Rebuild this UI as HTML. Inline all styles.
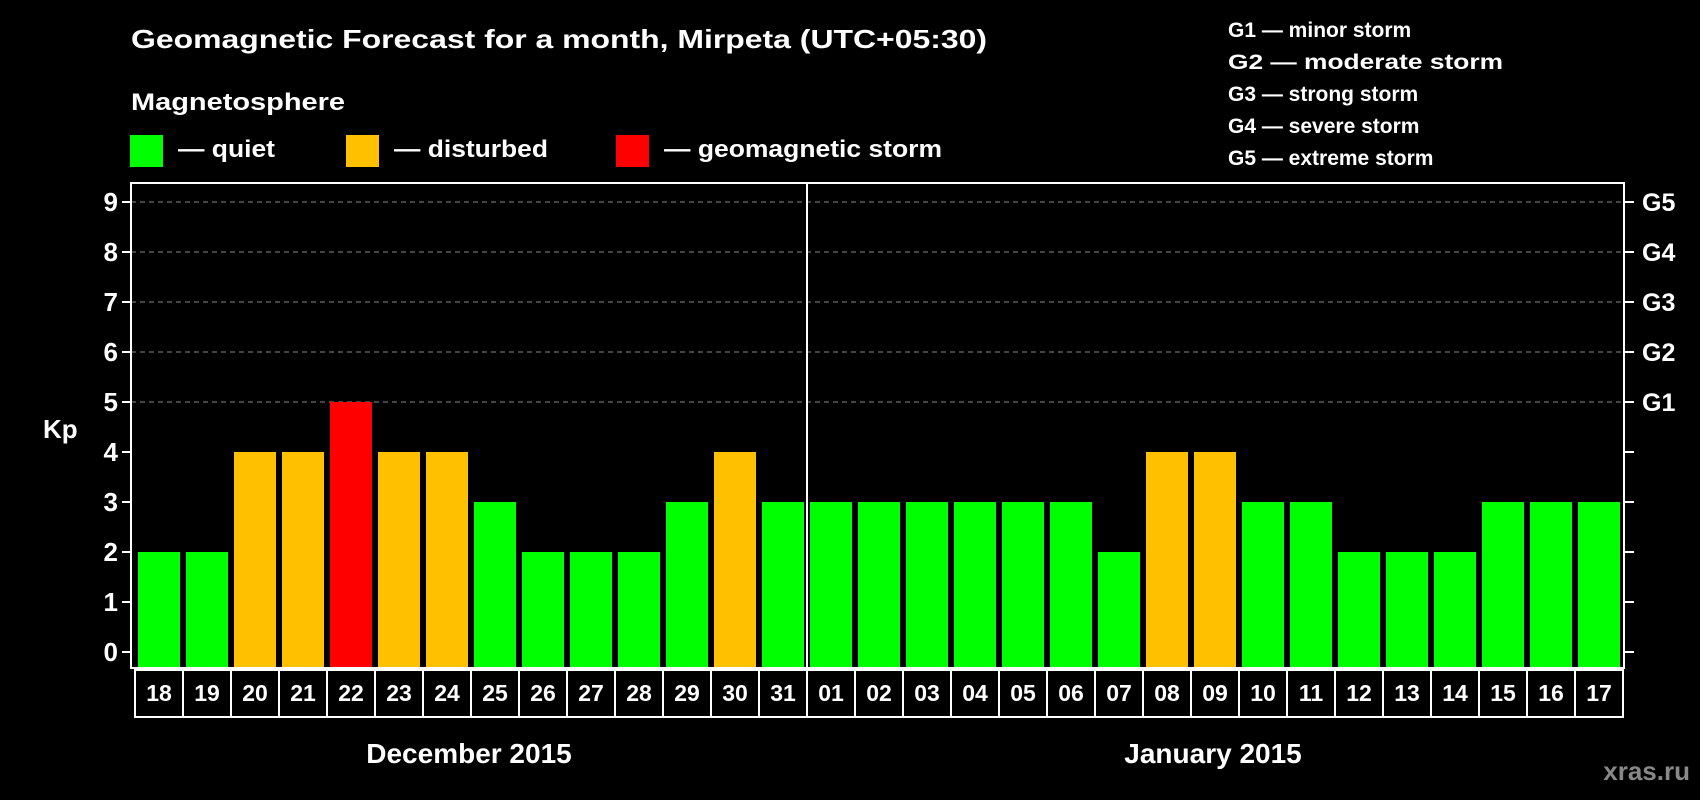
<!DOCTYPE html>
<html><head><meta charset="utf-8"><style>
html,body{margin:0;padding:0;background:#000;width:1700px;height:800px;overflow:hidden}
svg text{font-family:"Liberation Sans",Arial,sans-serif;font-weight:bold;fill:#fff}
</style></head><body>
<svg id="chart" width="1700" height="800" xmlns="http://www.w3.org/2000/svg">
<text x="131" y="48" font-size="26" textLength="856" lengthAdjust="spacingAndGlyphs">Geomagnetic Forecast for a month, Mirpeta (UTC+05:30)</text>
<text x="131" y="110" font-size="24" textLength="214" lengthAdjust="spacingAndGlyphs">Magnetosphere</text>
<rect x="130" y="135" width="33" height="32" fill="#00ff00"/>
<text x="178" y="157" font-size="24" textLength="97" lengthAdjust="spacingAndGlyphs">— quiet</text>
<rect x="346" y="135" width="33" height="32" fill="#ffc000"/>
<text x="394" y="157" font-size="24" textLength="154" lengthAdjust="spacingAndGlyphs">— disturbed</text>
<rect x="616" y="135" width="33" height="32" fill="#ff0000"/>
<text x="664" y="157" font-size="24" textLength="278" lengthAdjust="spacingAndGlyphs">— geomagnetic storm</text>
<g font-size="21">
<text x="1228" y="37">G1 — minor storm</text>
<text x="1228" y="69" textLength="275" lengthAdjust="spacingAndGlyphs">G2 — moderate storm</text>
<text x="1228" y="101">G3 — strong storm</text>
<text x="1228" y="133">G4 — severe storm</text>
<text x="1228" y="165">G5 — extreme storm</text>
</g>
<g id="grid"></g><g id="bars"></g><g id="axes"></g>
<text x="43" y="438" font-size="26">Kp</text>
<text x="469" y="763" font-size="28" text-anchor="middle">December 2015</text>
<text x="1213" y="763" font-size="28" text-anchor="middle">January 2015</text>
<text x="1690" y="780" font-size="26" text-anchor="end" style="fill:#888">xras.ru</text>
</svg>
<script>
const days = ["18","19","20","21","22","23","24","25","26","27","28","29","30","31","01","02","03","04","05","06","07","08","09","10","11","12","13","14","15","16","17"];
const kp = [2,2,4,4,5,4,4,3,2,2,2,3,4,3,3,3,3,3,3,3,2,4,4,3,3,2,2,2,3,3,3];
const yTicks = [0,1,2,3,4,5,6,7,8,9];
const gLabels = ["G1","G2","G3","G4","G5"];
const monthSplit = 14;
const NS="http://www.w3.org/2000/svg";
const L=131,R=1624,T=183,B=668;
const y=v=>652-v*50;
const x=i=>138+i*48;
function mk(tag,attrs,parent,txt){const e=document.createElementNS(NS,tag);for(const k in attrs)e.setAttribute(k,attrs[k]);if(txt!==undefined)e.textContent=txt;parent.appendChild(e);return e;}
const grid=document.getElementById('grid'),bars=document.getElementById('bars'),axes=document.getElementById('axes');
yTicks.forEach(v=>{
  if(v>=5){const g=mk('line',{x1:L,x2:R,y1:y(v),y2:y(v),stroke:'#888','stroke-width':1,'stroke-dasharray':'5,4'},grid);
  
  }
  const t1=mk('line',{x1:L-9,x2:L,y1:y(v),y2:y(v),stroke:'#fff','stroke-width':2},axes);
  
  
  const t2=mk('line',{x1:R,x2:R+10,y1:y(v),y2:y(v),stroke:'#fff','stroke-width':2},axes);
  
  
  const lb=mk('text',{x:L-13,y:y(v)+9,'font-size':26,'text-anchor':'end'},axes,String(v));
  
  
});
gLabels.forEach((g,i)=>{
  const t=mk('text',{x:R+18,y:y(5+i)+9,'font-size':25},axes,g);
  
  
});
kp.forEach((v,i)=>{
  const c=v>=5?'#ff0000':(v>=4?'#ffc000':'#00ff00');
  const r=mk('rect',{x:x(i),y:y(v),width:42,height:B-y(v),fill:c},bars);
  
  
  const bx=mk('rect',{x:x(i)-3,y:670,width:48,height:47,fill:'none',stroke:'#fff','stroke-width':2},axes);
  
  
  const t=mk('text',{x:x(i)+21,y:701,'font-size':23,'text-anchor':'middle'},axes,days[i]);
  
  
});
const fr=mk('path',{d:`M${L},${T}H${R}V${B}H${L}Z`,fill:'none',stroke:'#fff','stroke-width':2},axes);


const sx=x(monthSplit)-3;
const ml=mk('line',{x1:sx,x2:sx,y1:T,y2:B,stroke:'#fff','stroke-width':2},axes);


</script>
</body></html>
